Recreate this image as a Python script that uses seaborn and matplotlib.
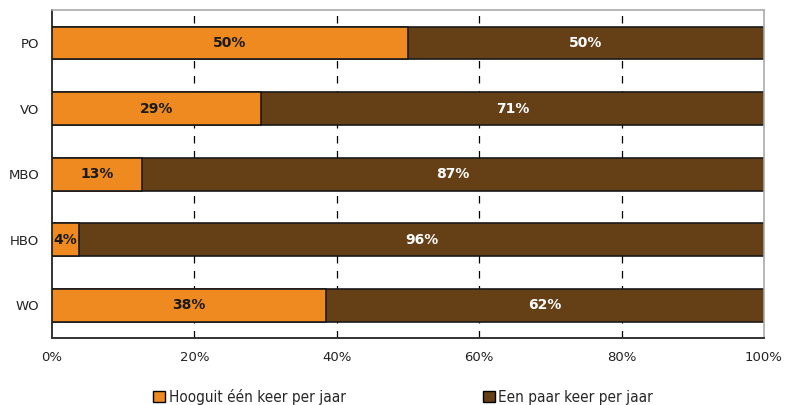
import numpy as np
import pandas as pd
import matplotlib
matplotlib.use("Agg")
import matplotlib.pyplot as plt
import seaborn as sns
from matplotlib.patches import Patch
from matplotlib import font_manager

# data
categories = ["PO", "VO", "MBO", "HBO", "WO"]
hooguit = [50, 29.4, 12.6, 3.8, 38.5]
een_paar = [50, 70.6, 87.4, 96.2, 61.5]
labels_hooguit = ["50%", "29%", "13%", "4%", "38%"]
labels_paar = ["50%", "71%", "87%", "96%", "62%"]
series_names = ["Hooguit één keer per jaar", "Een paar keer per jaar"]

c_orange = "#EE8A1F"
c_brown = "#654017"

sns.set_style("white")
plt.rcParams["font.family"] = ["DejaVu Sans"]

# condensed font for the legend, by file so it doesn't leak into other text
cond = [f for f in font_manager.findSystemFonts()
        if f.endswith("DejaVuSansCondensed.ttf")]
if cond:
    leg_prop = font_manager.FontProperties(fname=cond[0], size=11)
else:
    leg_prop = font_manager.FontProperties(family="DejaVu Sans", size=9.5)

df = pd.DataFrame({"cat": categories, "a": hooguit, "b": een_paar})
df["total"] = df["a"] + df["b"]

fig = plt.figure(figsize=(7.86, 4.05), dpi=100)
ax = fig.add_axes([0.066, 0.165, 0.906, 0.81])

# dashed grid behind bars
for g in [20, 40, 60, 80]:
    ax.axvline(g, color="black", linestyle=(0, (6, 6)), linewidth=0.9, zorder=0)

sns.barplot(data=df, x="total", y="cat", color=c_brown, orient="h", width=0.5,
            edgecolor="#1a1a1a", linewidth=1.2, saturation=1, ax=ax, zorder=2)
sns.barplot(data=df, x="a", y="cat", color=c_orange, orient="h", width=0.5,
            edgecolor="#1a1a1a", linewidth=1.2, saturation=1, ax=ax, zorder=3)

for i, (a, b) in enumerate(zip(hooguit, een_paar)):
    ax.text(a / 2, i, labels_hooguit[i], ha="center", va="center",
            fontsize=10, fontweight="bold", color="#1a1a1a", zorder=5)
    ax.text(a + b / 2, i, labels_paar[i], ha="center", va="center",
            fontsize=10, fontweight="bold", color="white", zorder=5)

ax.set_xlim(0, 100)
ax.set_ylim(4.5, -0.5)
ax.set_xticks([0, 20, 40, 60, 80, 100])
ax.set_xticklabels(["0%", "20%", "40%", "60%", "80%", "100%"])
ax.tick_params(axis="x", direction="in", length=6, width=1, pad=9,
               labelsize=9.5, colors="#222222")
ax.tick_params(axis="y", length=0, pad=9, labelsize=9.5, colors="#222222")
ax.set_xlabel("")
ax.set_ylabel("")

for side in ["top", "right"]:
    ax.spines[side].set_color("#aaaaaa")
    ax.spines[side].set_linewidth(1.2)
for side in ["left", "bottom"]:
    ax.spines[side].set_color("#333333")
    ax.spines[side].set_linewidth(1.4)

handles = [Patch(facecolor=c_orange, edgecolor="black", linewidth=1),
           Patch(facecolor=c_brown, edgecolor="black", linewidth=1)]
fig.legend(handles, series_names, loc="center", bbox_to_anchor=(0.513, 0.02),
           ncol=2, frameon=False, handlelength=0.8, handleheight=0.8,
           handletextpad=0.2, columnspacing=9, prop=leg_prop)

fig.savefig("out.png", dpi=100)
